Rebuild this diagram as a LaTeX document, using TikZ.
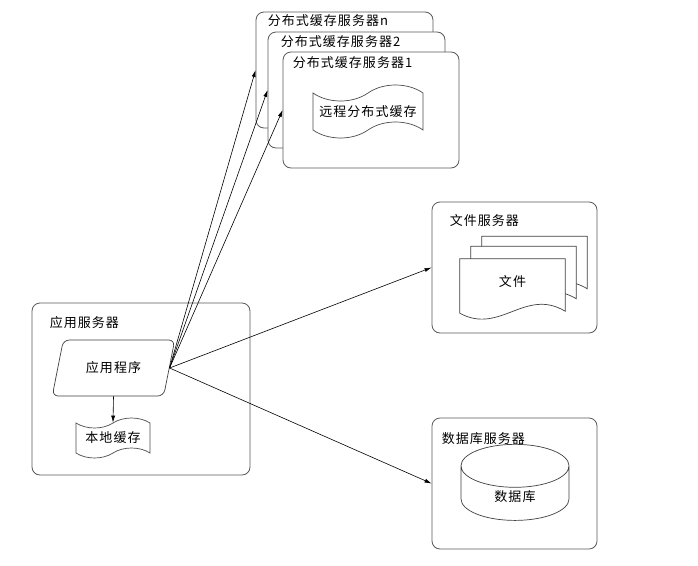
\documentclass[tikz,border=0pt]{standalone}
\usepackage{fontspec}
\newfontfamily\cjk[LetterSpace=8]{Noto Sans CJK SC}
\usetikzlibrary{shapes.geometric, shapes.symbols, arrows.meta, positioning, calc}
\tikzset{
	srvbox/.style={
		draw=black!65,
		line width=0.8pt,
		rounded corners=8pt,
		fill=white
	},
	title/.style={
		anchor=west,
		inner sep=0pt
	},
	tapebox/.style={
		draw=black!70,
		shape=tape,
		line width=0.7pt,
		tape bend height=10pt,
		inner sep=0pt
	},
	docbox/.style={
		minimum width=105pt,
		minimum height=56pt,
		inner sep=0pt
	},
	arrow/.style={
		-{Latex[length=7pt, width=4pt]},
		line width=0.6pt
	}
}

\begin{document}
\begin{tikzpicture}[x=1pt, y=-1pt, every node/.style={font=\cjk\fontsize{13}{15}\selectfont}]
	\useasboundingbox (0,0) rectangle (698,565);
	
	% Serveurs de cache distribue
	\node[srvbox, minimum width=177pt, minimum height=116pt] (SRVn) at (344.5,70) {};
	\node[title] at ($(SRVn.north west)+(12,9)$) {分布式缓存服务器n};
	\node[srvbox, minimum width=177pt, minimum height=116pt] (SRV2) at (356.5,90) {};
	\node[title] at ($(SRV2.north west)+(13,10)$) {分布式缓存服务器2};
	\node[srvbox, minimum width=176pt, minimum height=116pt] (SRV1) at (371,110) {};
	\node[title] at ($(SRV1.north west)+(10,11)$) {分布式缓存服务器1};
	\node[tapebox, tape bend height=16pt, minimum width=110pt, minimum height=53pt] (RC) at (368,111.5) {远程分布式缓存};
	
	% Serveur d'application
	\node[srvbox, minimum width=218pt, minimum height=172pt] (APPSRV) at (141,389) {};
	\node[title] at ($(APPSRV.north west)+(18,20)$) {应用服务器};
	\node[draw=black!75, line width=0.7pt, shape=trapezium, trapezium left angle=70, trapezium right angle=110,
		trapezium stretches=true, rounded corners=6pt, minimum width=123pt, minimum height=56pt] (APP) at (113.5,368) {应用程序};
	\node[tapebox, minimum width=74pt, minimum height=40pt] (LC) at (113,438) {本地缓存};
	\draw[arrow] (APP.south) -- (LC.north);
	
	% Serveur de fichiers
	\node[srvbox, minimum width=165pt, minimum height=131pt] (FILESRV) at (514.5,267.5) {};
	\node[title] at ($(FILESRV.north west)+(18,19)$) {文件服务器};
	\node[docbox] (DOC3) at (534.5,264.5) {};
	\node[docbox] (DOC2) at (523.5,274.5) {};
	\node[docbox] (DOC1) at (512.5,287) {};
	\foreach \d in {DOC3, DOC2, DOC1}
		\draw[draw=black!75, line width=0.7pt, fill=white] (\d.north west) -- (\d.north east) -- ($(\d.south east)+(0,-4)$)
			.. controls ($(\d.south east)+(-40,-28)$) and ($(\d.south west)+(40,20)$) .. ($(\d.south west)+(0,-2)$) -- cycle;
	\node at ($(DOC1)+(0,-5)$) {文件};
	
	% Serveur de base de donnees
	\node[srvbox, minimum width=165pt, minimum height=131pt] (DBSRV) at (514.5,483.5) {};
	\node[title] at ($(DBSRV.north west)+(10,21)$) {数据库服务器};
	\node[draw=black!75, line width=0.7pt, shape=cylinder, shape border rotate=90, aspect=0.9,
		minimum width=108pt, minimum height=70pt] (DB) at (515,497) {数据库};
	
	% Liaisons
	\draw[arrow] (APP.east) -- (SRVn.west);
	\draw[arrow] (APP.east) -- (SRV2.west);
	\draw[arrow] (APP.east) -- (SRV1.west);
	\draw[arrow] (APP.east) -- (FILESRV.west);
	\draw[arrow] (APP.east) -- (DBSRV.west);
	
\end{tikzpicture}
\end{document}
